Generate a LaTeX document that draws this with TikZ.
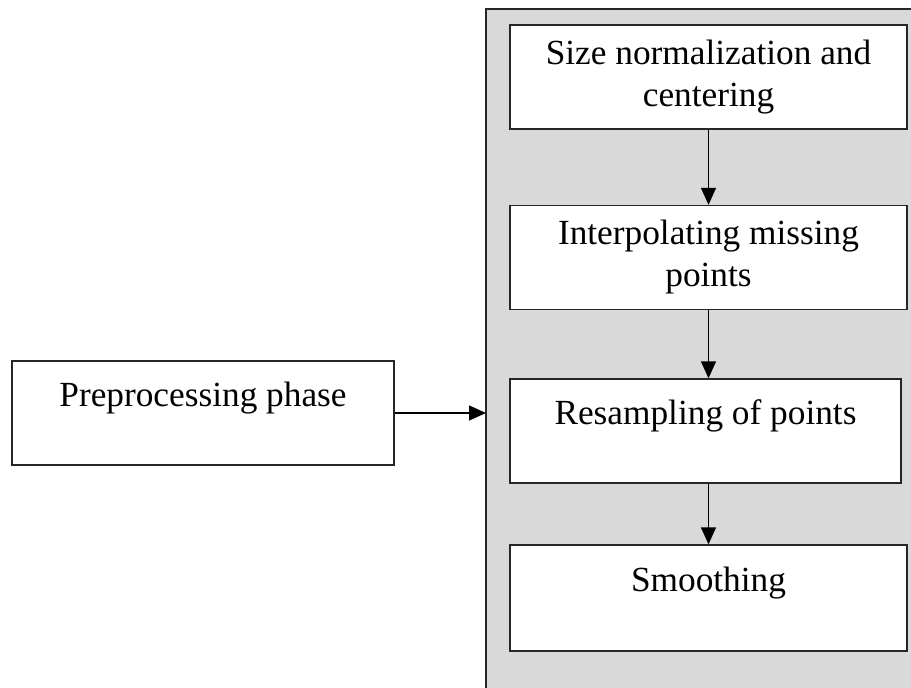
\documentclass[tikz,border=0pt]{standalone}
\usepackage{fontspec}
\setmainfont{Liberation Serif}
\usetikzlibrary{arrows.meta}

\begin{document}
\begin{tikzpicture}[x=1pt,y=-1pt,->,>={Triangle[length=17pt,width=15pt]},line width=1.4pt]
    \tikzstyle{stage}=[draw=black!85,fill=white,minimum width=397pt,minimum height=104pt,inner sep=0pt,align=center,font=\fontsize{35.3}{42}\selectfont]
    \tikzstyle{top stage}=[stage,text height=45pt,text depth=59pt]
    \tikzstyle{panel}=[fill=gray!30]

    \useasboundingbox (0,0) rectangle (911,688);
    % grey panel behind the steps
    \fill[panel] (486,9) rectangle (911,688);
    \draw[-,black!85] (486,688) -- (486,9) -- (911,9);
    \coordinate (P-in) at (486,413);

    % the steps
    \node[stage] (S-1) at (708.5,77) {Size normalization and\\centering};
    \node[stage] (S-2) at (708.5,257.5) {Interpolating missing\\points};
    \node[top stage,minimum width=391pt] (S-3) at (705.5,431) {Resampling of points};
    \node[top stage,minimum height=106pt] (S-4) at (708.5,598) {Smoothing};
    \node[top stage,minimum width=382pt] (Pre) at (203,413) {Preprocessing phase};

    \path (S-1) edge (S-2);
    \path (S-2.south) edge (S-3.north -| S-2.south);
    \path (S-3.south -| S-2.south) edge (S-4.north -| S-2.south);
    \path (Pre.east) edge (P-in);
\end{tikzpicture}
\end{document}
